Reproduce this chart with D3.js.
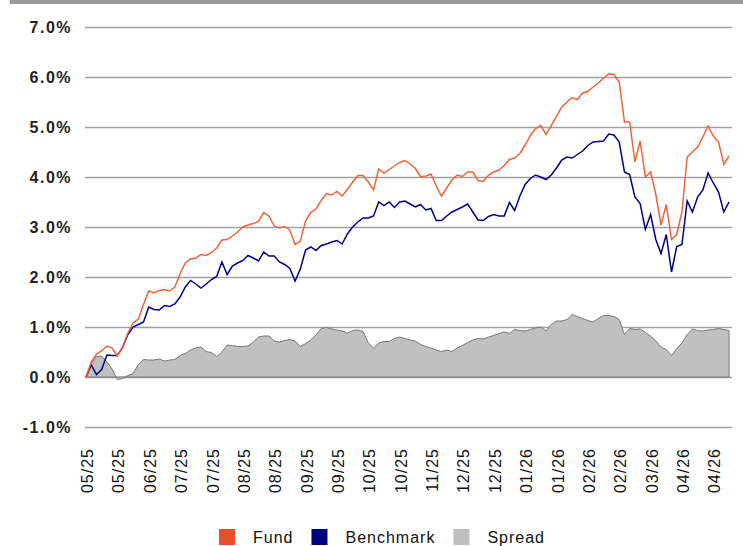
<!DOCTYPE html>
<html>
<head>
<meta charset="utf-8">
<script src="https://cdn.jsdelivr.net/npm/d3@7"></script>
<style>
  body { margin:0; background:#fff; }
  svg { display:block; font-family:"Liberation Sans", Arial, sans-serif; }
</style>
</head>
<body>
<svg id="chart"></svg>
<script>
// values, one point every ~5px
var dateLabels = ["05/25","05/25","06/25","07/25","07/25","08/25","08/25","09/25","09/25","10/25","10/25",
                  "11/25","12/25","12/25","01/26","01/26","02/26","02/26","03/26","04/26","04/26"];
var yTicks = [-1,0,1,2,3,4,5,6,7];

var fund = [
0.00,0.30,0.46,0.52,0.62,0.58,0.42,0.60,0.88,1.08,
1.16,1.45,1.72,1.68,1.73,1.75,1.72,1.80,2.07,2.28,
2.36,2.38,2.45,2.43,2.49,2.58,2.74,2.75,2.82,2.90,
3.00,3.04,3.07,3.11,3.29,3.22,3.02,2.98,3.01,2.94,
2.65,2.72,3.12,3.29,3.36,3.53,3.67,3.64,3.71,3.62,
3.75,3.90,4.03,4.03,3.90,3.74,4.16,4.08,4.15,4.22,
4.29,4.33,4.26,4.17,4.00,4.02,4.06,3.82,3.62,3.78,
3.94,4.04,4.01,4.10,4.10,3.93,3.91,4.04,4.10,4.14,
4.23,4.35,4.38,4.47,4.64,4.83,4.97,5.03,4.85,5.03,
5.21,5.40,5.50,5.59,5.55,5.68,5.71,5.80,5.88,5.98,
6.06,6.05,5.90,5.10,5.10,4.30,4.72,4.00,4.10,3.65,
3.04,3.45,2.75,2.85,3.30,4.40,4.50,4.60,4.80,5.02,
4.82,4.70,4.25,4.42];

var bench = [
0.00,0.24,0.05,0.15,0.44,0.43,0.43,0.59,0.85,1.00,
1.05,1.10,1.40,1.35,1.34,1.43,1.41,1.46,1.60,1.80,
1.93,1.86,1.78,1.86,1.95,2.01,2.30,2.05,2.22,2.28,
2.33,2.43,2.38,2.32,2.50,2.42,2.42,2.30,2.25,2.17,
1.92,2.16,2.54,2.60,2.53,2.63,2.66,2.70,2.73,2.66,
2.86,3.00,3.10,3.18,3.18,3.22,3.50,3.43,3.50,3.39,
3.50,3.52,3.46,3.40,3.45,3.34,3.37,3.13,3.13,3.22,
3.30,3.35,3.40,3.46,3.30,3.14,3.13,3.21,3.25,3.22,
3.22,3.49,3.33,3.62,3.85,3.97,4.04,4.00,3.95,4.04,
4.18,4.34,4.40,4.38,4.45,4.52,4.63,4.70,4.71,4.72,
4.86,4.84,4.70,4.10,4.05,3.60,3.47,2.95,3.25,2.75,
2.47,2.85,2.10,2.61,2.65,3.52,3.30,3.60,3.74,4.08,
3.88,3.70,3.30,3.50];

var spread = [
0.00,0.26,0.41,0.42,0.30,0.16,-0.05,-0.03,0.03,0.07,
0.25,0.35,0.34,0.34,0.36,0.32,0.34,0.35,0.43,0.47,
0.54,0.58,0.60,0.51,0.49,0.41,0.50,0.64,0.63,0.61,
0.61,0.62,0.70,0.80,0.82,0.82,0.72,0.70,0.73,0.75,
0.72,0.61,0.67,0.74,0.84,0.97,0.99,0.96,0.94,0.92,
0.88,0.93,0.94,0.91,0.68,0.58,0.68,0.71,0.71,0.77,
0.80,0.77,0.74,0.72,0.65,0.61,0.58,0.54,0.51,0.54,
0.51,0.58,0.63,0.69,0.74,0.77,0.76,0.80,0.83,0.87,
0.90,0.87,0.95,0.93,0.92,0.95,0.98,1.00,0.92,1.05,
1.12,1.12,1.15,1.25,1.21,1.17,1.13,1.10,1.17,1.23,
1.23,1.21,1.15,0.85,0.97,0.95,0.96,0.89,0.82,0.72,
0.60,0.55,0.43,0.57,0.68,0.85,0.96,0.93,0.92,0.94,
0.95,0.97,0.95,0.93];

var legendNames = ["Fund","Benchmark","Spread"];
var legendColors = ["#e8502a","#000080","#c0c0c0"];
var tickEvery = 6;

var initChart = function()
    {
        var screen = {width:743, height:546}
        var plot = {left:85, right:732, dataLeft:86, dataRight:729, top:27, zero:377}

        var svg = d3.select("#chart")
            .attr("width", screen.width)
            .attr("height", screen.height)

        // grey strip at the very top
        svg.append("rect")
            .attr("x", 10).attr("y", 0)
            .attr("width", screen.width - 10).attr("height", 4)
            .attr("fill", "#9a9a9a")

        var xScale = d3.scaleLinear()
            .domain([0, fund.length - 1])
            .range([plot.dataLeft, plot.dataRight])
        var yScale = d3.scaleLinear()
            .domain([-1, 7])
            .range([427, 27])

        drawGrid(svg, plot, yScale);
        drawSeries(svg, xScale, yScale);
        drawAxes(svg, plot, xScale, yScale);
        drawLegend(svg);
    }

var drawGrid = function(svg, plot, yScale)
    {
        var grid = d3.axisLeft(yScale)
            .tickValues(yTicks)
            .tickSize(-(plot.right - plot.left))
            .tickFormat("")
        var g = svg.append("g")
            .attr("transform", "translate(" + plot.left + ",0)")
            .call(grid)
        g.select(".domain").remove()
        g.selectAll("line")
            .attr("stroke", "#a0a0a0")
            .attr("stroke-width", 1.6)
    }

var drawSeries = function(svg, xScale, yScale)
    {
        var area = d3.area()
            .x(function(d, i) { return xScale(i); })
            .y0(yScale(0))
            .y1(function(d) { return yScale(d); })
        svg.append("path")
            .datum(spread)
            .attr("d", area)
            .attr("fill", "#c0c0c0")
            .attr("stroke", "#777")
            .attr("stroke-width", 1)

        var line = d3.line()
            .x(function(d, i) { return xScale(i); })
            .y(function(d) { return yScale(d); })
        svg.append("path")
            .datum(bench)
            .attr("d", line)
            .attr("fill", "none")
            .attr("stroke", "#000080")
            .attr("stroke-width", 1.5)
        svg.append("path")
            .datum(fund)
            .attr("d", line)
            .attr("fill", "none")
            .attr("stroke", "#f0643a")
            .attr("stroke-width", 1.5)
    }

var drawAxes = function(svg, plot, xScale, yScale)
    {
        var yAxis = d3.axisLeft(yScale)
            .tickValues(yTicks)
            .tickSize(0)
            .tickPadding(13)
            .tickFormat(function(d) { return d.toFixed(1) + "%"; })
        var gy = svg.append("g")
            .attr("transform", "translate(" + plot.left + ",0)")
            .call(yAxis)
        gy.select(".domain").remove()
        gy.selectAll("text")
            .attr("font-family", "Liberation Sans, Arial, sans-serif")
            .attr("font-size", 16)
            .attr("font-weight", "bold")
            .attr("letter-spacing", 1.5)
            .attr("fill", "#222")

        var xAxis = d3.axisBottom(xScale)
            .tickValues(dateLabels.map(function(d, i) { return i * tickEvery; }))
            .tickSize(0)
            .tickFormat(function(d, i) { return dateLabels[i]; })
        var gx = svg.append("g")
            .attr("transform", "translate(1,448)")
            .call(xAxis)
        gx.select(".domain").remove()
        gx.selectAll("text")
            .attr("font-family", "Liberation Sans, Arial, sans-serif")
            .attr("font-size", 16)
            .attr("letter-spacing", 1)
            .attr("fill", "#111")
            .attr("x", 0)
            .attr("y", 0)
            .attr("dy", "0.35em")
            .attr("transform", "rotate(-90)")
            .style("text-anchor", "end")
    }

var drawLegend = function(svg)
    {
        var legend = svg.append("g")
        var xPos = 219;
        legendNames.forEach(function(name, i)
            {
                legend.append("rect")
                    .attr("x", xPos).attr("y", 529)
                    .attr("width", 16).attr("height", 16)
                    .attr("fill", legendColors[i])
                var t = legend.append("text")
                    .text(name)
                    .attr("x", xPos + 34)
                    .attr("y", 543)
                    .attr("font-size", 16)
                    .attr("letter-spacing", 1)
                    .attr("fill", "#111")
                xPos = xPos + 34 + t.node().getComputedTextLength() + 18;
            })
    }

initChart();
</script>
</body>
</html>
